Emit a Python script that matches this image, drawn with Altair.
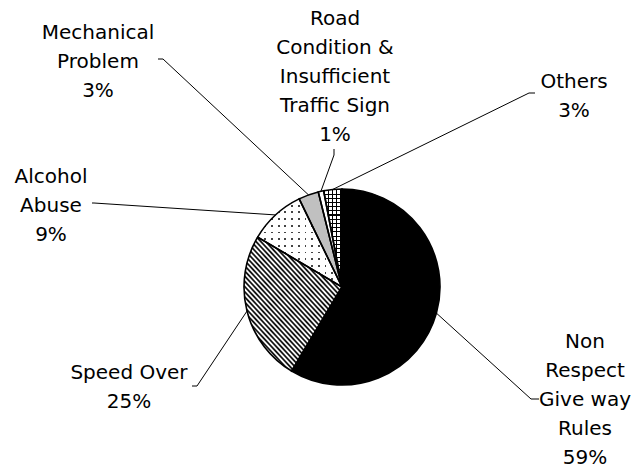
import math
import altair as alt

# ---------------- data ----------------
categories = [
    "Non Respect Give way Rules",
    "Speed Over",
    "Alcohol Abuse",
    "Mechanical Problem",
    "Road Condition & Insufficient Traffic Sign",
    "Others",
]
values = [58.6, 24.9, 9.3, 3.3, 0.9, 3.0]
label_lines = [
    ["Non", "Respect", "Give way", "Rules"],
    ["Speed Over"],
    ["Alcohol", "Abuse"],
    ["Mechanical", "Problem"],
    ["Road", "Condition &", "Insufficient", "Traffic Sign"],
    ["Others"],
]

# ---------------- layout / style ----------------
OFF = 8
CX, CY, R = 342 - OFF, 287 - OFF, 98
# centre of the first text line of each label (page pixels)
label_xy = [(585, 342), (129, 373), (51, 177), (98, 33), (335, 19), (574, 82)]
leader_start = [(539, 399), (192, 386), (92, 203), (158, 59), (334, 149), (535, 93)]
leader_elbow = [(531, 399), (197, 386), (94, 203), (163, 59), (334, 155), (529, 93)]
base_fill = ["#000000", "#ffffff", "#444444", "#c0c0c0", "#ffffff", "#ffffff"]
CLEAR = "rgba(255,255,255,0)"

records = []
for i, (c, v) in enumerate(zip(categories, values)):
    records.append({
        "cat": c, "value": v, "order": i,
        "lines": label_lines[i] + [f"{round(v)}%"],
        "tx": label_xy[i][0] - OFF, "ty": label_xy[i][1] - OFF,
        "sx": leader_start[i][0] - OFF, "sy": leader_start[i][1] - OFF,
        "bx": leader_elbow[i][0] - OFF, "by": leader_elbow[i][1] - OFF,
    })


# slice bounding boxes (for gradient-based fill patterns)
def slice_bbox(idx):
    tot = sum(values)
    a0 = sum(values[:idx]) / tot * 2 * math.pi
    a1 = sum(values[:idx + 1]) / tot * 2 * math.pi
    angs = [a0, a1] + [k * math.pi / 2 for k in range(5) if a0 < k * math.pi / 2 < a1]
    pts = [(CX, CY)] + [(CX + R * math.sin(a), CY - R * math.cos(a)) for a in angs]
    xs = [p[0] for p in pts]
    ys = [p[1] for p in pts]
    return max(xs) - min(xs), max(ys) - min(ys)


def grad_frame(W, H, theta_deg):
    # stripes run along theta (screen degrees); gradient vector is their normal
    th = math.radians(theta_deg)
    nx, ny = math.sin(th), -math.cos(th)
    corners = [(0, 0), (1, 0), (0, 1), (1, 1)]
    vals = [cx * W * nx + cy * H * ny for cx, cy in corners]
    mn, mx = min(vals), max(vals)
    L = mx - mn
    u1 = corners[vals.index(mn)]
    return L, {"gradient": "linear", "x1": u1[0], "y1": u1[1],
               "x2": u1[0] + nx * L / W, "y2": u1[1] + ny * L / H}


def stripes(W, H, theta_deg, period, duty, c_on, c_off):
    L, g = grad_frame(W, H, theta_deg)
    stops = []
    k = 0
    while k * period / L < 1:
        s = k * period / L
        e = min(s + duty * period / L, 1.0)
        n = min((k + 1) * period / L, 1.0)
        stops += [
            {"offset": round(s, 5), "color": c_on},
            {"offset": round(e, 5), "color": c_on},
            {"offset": round(e, 5), "color": c_off},
            {"offset": round(n, 5), "color": c_off},
        ]
        k += 1
    g["stops"] = stops
    return g


def soft_stripes(W, H, theta_deg, period, c_on, c_off):
    L, g = grad_frame(W, H, theta_deg)
    stops = []
    k = 0
    while k * period / L < 1:
        s = k * period / L
        for f, col in [(0.0, c_off), (0.3, c_on), (0.5, c_on), (0.8, c_off)]:
            stops.append({"offset": round(min(s + f * period / L, 1.0), 5), "color": col})
        k += 1
    stops.append({"offset": 1.0, "color": c_off})
    g["stops"] = stops
    return g


W1, H1 = slice_bbox(1)
W2, H2 = slice_bbox(2)
W5, H5 = slice_bbox(5)
speed_grad = soft_stripes(W1, H1, 30, 3.7, "#111111", "#ffffff")
dots_v = stripes(W2, H2, 90, 6.7, 1.8 / 6.7, CLEAR, "#ffffff")
dots_h = stripes(W2, H2, 0, 6.7, 1.8 / 6.7, CLEAR, "#ffffff")
grid_v = stripes(W5, H5, 90, 4.2, 1.1 / 4.2, "#000000", CLEAR)
grid_h = stripes(W5, H5, 0, 4.2, 1.1 / 4.2, "#000000", CLEAR)

# ---------------- chart ----------------
base = (
    alt.Chart(alt.Data(values=records))
    .transform_joinaggregate(total="sum(value)")
    .transform_window(cum="sum(value)", sort=[alt.SortField("order")])
    .transform_calculate(a0="(datum.cum - datum.value) / datum.total * 2 * PI")
    .transform_calculate(a1="datum.cum / datum.total * 2 * PI")
    .transform_calculate(mid="(datum.a0 + datum.a1) / 2")
    .transform_calculate(ex=f"{CX} + {R} * sin(datum.mid)")
    .transform_calculate(ey=f"{CY} - {R} * cos(datum.mid)")
)

arc_enc = dict(
    theta=alt.Theta("a0:Q", scale=None),
    theta2=alt.Theta2("a1"),
    x=alt.value(CX),
    y=alt.value(CY),
)

fills = base.mark_arc(radius=R, strokeWidth=0).encode(
    fill=alt.Fill("cat:N", scale=alt.Scale(domain=categories, range=base_fill), legend=None),
    **arc_enc,
)


def pattern(cat, grad):
    return base.transform_filter(alt.datum.cat == cat).mark_arc(
        radius=R, fill=grad, strokeWidth=0
    ).encode(**arc_enc)


layers = [
    fills,
    pattern("Speed Over", speed_grad),
    pattern("Alcohol Abuse", dots_v),
    pattern("Alcohol Abuse", dots_h),
    pattern("Others", grid_v),
    pattern("Others", grid_h),
]

outline = base.mark_arc(
    radius=R, fill="white", fillOpacity=0, stroke="black", strokeWidth=1.6
).encode(**arc_enc)

lead1 = base.mark_rule(color="black", strokeWidth=1).encode(
    x=alt.X("sx:Q", scale=None), y=alt.Y("sy:Q", scale=None),
    x2=alt.X2("bx"), y2=alt.Y2("by"),
)
lead2 = base.mark_rule(color="black", strokeWidth=1).encode(
    x=alt.X("bx:Q", scale=None), y=alt.Y("by:Q", scale=None),
    x2=alt.X2("ex"), y2=alt.Y2("ey"),
)

labels = base.mark_text(
    font="DejaVu Sans", fontSize=20, lineHeight=29,
    align="center", baseline="middle", color="black",
).encode(
    x=alt.X("tx:Q", scale=None), y=alt.Y("ty:Q", scale=None), text=alt.Text("lines:N"),
)

chart = (
    alt.layer(*layers, outline, lead1, lead2, labels)
    .properties(width=627, height=457, autosize=alt.AutoSizeParams(type="none"), padding=0)
    .configure_view(strokeWidth=0)
)

chart.save("out.html", embed_options={"renderer": "svg", "actions": False})
